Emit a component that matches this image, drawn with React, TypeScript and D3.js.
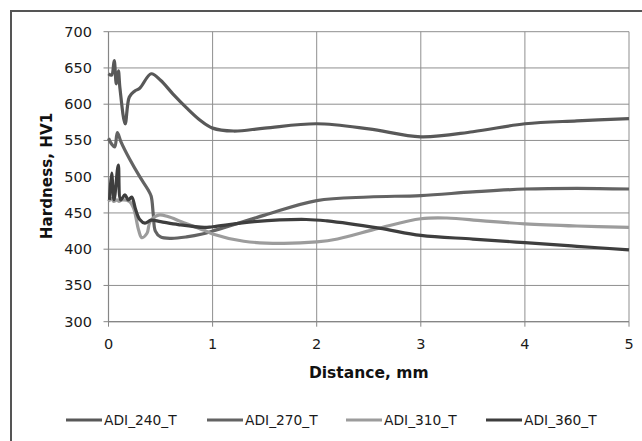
import React from "react";
import * as d3 from "d3";

const xTicks = [0, 1, 2, 3, 4, 5];
const yTicks = [300, 350, 400, 450, 500, 550, 600, 650, 700];

const seriesNames = ["ADI_240_T", "ADI_270_T", "ADI_310_T", "ADI_360_T"];
const seriesColors = ["#585858", "#636363", "#9c9c9c", "#3e3e3e"];

const s240: [number, number][] = [
  [0, 642], [0.03, 640], [0.055, 660], [0.075, 628], [0.095, 646], [0.11, 622],
  [0.16, 573], [0.2, 610], [0.25, 618], [0.3, 622], [0.41, 642], [0.5, 633],
  [0.62, 614], [0.75, 595], [0.88, 578], [1.0, 567], [1.2, 563], [1.5, 567],
  [2.0, 573], [2.5, 566], [3.0, 555], [3.5, 562], [4.0, 573], [4.5, 577], [5.0, 580],
];
const s270: [number, number][] = [
  [0, 553], [0.03, 545], [0.06, 541], [0.085, 561], [0.12, 548], [0.2, 525],
  [0.3, 500], [0.38, 482], [0.41, 473], [0.43, 448], [0.45, 425], [0.5, 417],
  [0.6, 415], [0.75, 417], [0.9, 421], [1.0, 425], [1.5, 447], [2.0, 467],
  [2.5, 472], [3.0, 474], [3.5, 479], [4.0, 483], [4.5, 484], [5.0, 483],
];
const s310: [number, number][] = [
  [0, 466], [0.03, 470], [0.05, 466], [0.08, 468], [0.1, 466], [0.13, 468],
  [0.2, 466], [0.24, 457], [0.29, 426], [0.32, 416], [0.37, 422], [0.4, 438],
  [0.48, 447], [0.57, 445], [0.7, 438], [0.92, 426], [1.0, 421], [1.3, 411],
  [1.65, 408], [2.0, 410], [2.2, 414], [2.6, 429], [3.0, 442], [3.25, 443],
  [3.6, 439], [4.0, 435], [4.5, 432], [5.0, 430],
];
const s360: [number, number][] = [
  [0.01, 468], [0.03, 505], [0.053, 468], [0.094, 516], [0.117, 468], [0.158, 475],
  [0.19, 468], [0.223, 472], [0.26, 455], [0.3, 441], [0.35, 436], [0.41, 440],
  [0.5, 438], [0.67, 434], [0.92, 430], [1.0, 431], [1.4, 438], [1.9, 441],
  [2.1, 439], [2.6, 429], [3.0, 419], [3.5, 414], [4.0, 409], [4.5, 404], [5.0, 399],
];
const seriesData = [s240, s270, s310, s360];

const legendX = [66, 207, 346, 486];

export default function App() {
  const x = d3.scaleLinear().domain([0, 5]).range([108.5, 629]);
  const y = d3.scaleLinear().domain([300, 700]).range([321.7, 31.7]);
  const line = d3
    .line<[number, number]>()
    .x((d) => x(d[0]))
    .y((d) => y(d[1]))
    .curve(d3.curveCatmullRom.alpha(0.5));

  const font = "'DejaVu Sans', sans-serif";
  return (
    <svg
      width={642}
      height={441}
      style={{ position: "absolute", left: 0, top: 0, background: "#fff" }}
    >
      <path d="M11,441 L11,11 L642,11" fill="none" stroke="#555" strokeWidth={2} />
      {yTicks.map((t) => (
        <line key={"gy" + t} x1={x(0)} x2={x(5)} y1={y(t)} y2={y(t)} stroke="#8f8f8f" strokeWidth={1} />
      ))}
      {xTicks.map((t) => (
        <line key={"gx" + t} x1={x(t)} x2={x(t)} y1={y(700)} y2={y(300)} stroke="#8f8f8f" strokeWidth={1} />
      ))}
      <line x1={x(0)} x2={x(0)} y1={y(700)} y2={y(300)} stroke="#868686" strokeWidth={1.2} />
      <line x1={x(0)} x2={x(5)} y1={y(300)} y2={y(300)} stroke="#868686" strokeWidth={1.2} />
      {yTicks.map((t) => (
        <line key={"ty" + t} x1={x(0) - 5} x2={x(0)} y1={y(t)} y2={y(t)} stroke="#868686" />
      ))}
      {xTicks.map((t) => (
        <line key={"tx" + t} x1={x(t)} x2={x(t)} y1={y(300)} y2={y(300) + 5} stroke="#868686" />
      ))}
      {yTicks.map((t) => (
        <text key={"ly" + t} x={92} y={y(t) + 5} textAnchor="end" fontFamily={font} fontSize={14.5} fill="#1a1a1a">
          {t}
        </text>
      ))}
      {xTicks.map((t) => (
        <text key={"lx" + t} x={x(t)} y={349} textAnchor="middle" fontFamily={font} fontSize={14.5} fill="#1a1a1a">
          {t}
        </text>
      ))}
      <text
        transform={`translate(52,176) rotate(-90)`}
        textAnchor="middle"
        fontFamily={font}
        fontSize={15.2}
        fontWeight="bold"
        fill="#111"
      >
        Hardness, HV1
      </text>
      <text x={368.75} y={378} textAnchor="middle" fontFamily={font} fontSize={15.5} fontWeight="bold" fill="#111">
        Distance, mm
      </text>
      {seriesData.map((s, i) => (
        <path key={"s" + i} d={line(s) || ""} fill="none" stroke={seriesColors[i]} strokeWidth={3.2} strokeLinejoin="round" />
      ))}
      {seriesNames.map((n, i) => (
        <g key={"lg" + i}>
          <line x1={legendX[i]} x2={legendX[i] + 36} y1={420} y2={420} stroke={seriesColors[i]} strokeWidth={3.2} />
          <text x={legendX[i] + 38} y={425} fontFamily={font} fontSize={13.8} fill="#1a1a1a">
            {n}
          </text>
        </g>
      ))}
    </svg>
  );
}
